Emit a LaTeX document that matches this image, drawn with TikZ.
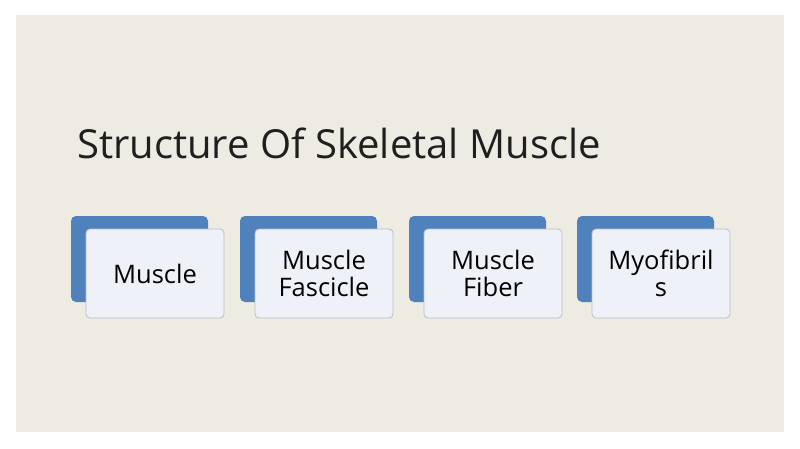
\documentclass[tikz,border=0pt]{standalone}
\usepackage{fontspec}
\setmainfont{Open Sans}
\usetikzlibrary{positioning}
\definecolor{slidebg}{HTML}{EEEBE3}
\definecolor{cardblue}{HTML}{4F81BD}
\definecolor{cardface}{HTML}{EEF2F8}
\definecolor{cardline}{HTML}{B8BCC4}
\tikzset{
  backcard/.style={fill=cardblue, rounded corners=5pt, minimum width=137pt, minimum height=86pt, inner sep=0pt},
  frontcard/.style={fill=cardface, draw=cardline, line width=0.8pt, rounded corners=4pt,
    minimum width=138pt, minimum height=89pt, inner sep=0pt, align=center,
    font=\fontsize{25.5}{27}\selectfont, text=black}
}
\begin{document}
\begin{tikzpicture}[x=1pt,y=-1pt]
  \useasboundingbox (0,0) rectangle (800,449);
  \fill[white] (0,0) rectangle (800,449);
  \fill[slidebg] (16,15) rectangle (784,432);
  \node[anchor=base west, inner sep=0pt, font=\fontsize{40}{46}\selectfont, text=black!88] (title) at (77,159) {Structure Of Skeletal Muscle};
  \foreach \i/\x/\txt in {1/139.5/Muscle, 2/308.5/Muscle\\Fascicle, 3/477.5/Muscle\\Fiber, 4/645.5/Myofibril\\s} {
    \node[backcard] (back\i) at (\x,259) {};
    \node[frontcard] (card\i) at ([xshift=15.5pt,yshift=-14.5pt]back\i.center) {\txt};
  }
\end{tikzpicture}
\end{document}
